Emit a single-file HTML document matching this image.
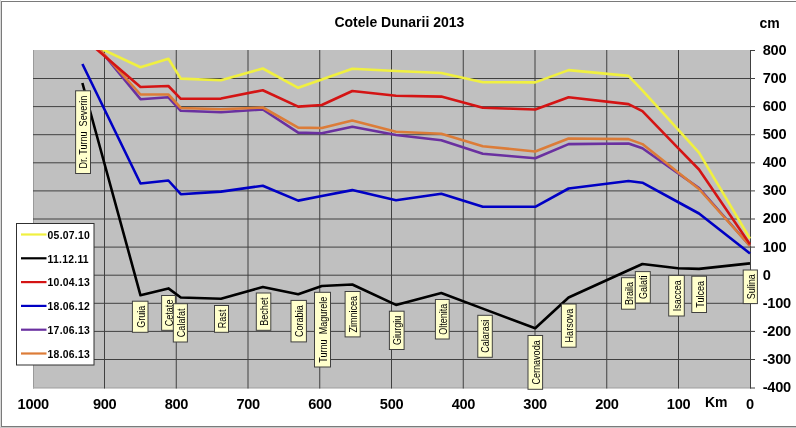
<!DOCTYPE html>
<html><head><meta charset="utf-8"><style>
html,body{margin:0;padding:0;background:#fff;}
svg{display:block;font-family:"Liberation Sans",sans-serif;filter:blur(0.4px);}
</style></head><body>
<svg width="796" height="428" viewBox="0 0 796 428">
<rect x="0" y="0" width="796" height="428" fill="#ffffff"/>
<rect x="0" y="0" width="1" height="428" fill="#d8d8d8"/>
<rect x="1" y="1" width="795" height="1" fill="#7a7a7a"/>
<rect x="1" y="1" width="1" height="426" fill="#7a7a7a"/>
<rect x="1" y="426" width="795" height="1" fill="#7a7a7a"/>
<rect x="0" y="427" width="796" height="1" fill="#c8c8c8"/>
<rect x="33" y="50" width="717" height="338.5" fill="#C0C0C0"/>
<rect x="33" y="50" width="1" height="338.5" fill="#9a9a9a"/>
<rect x="33" y="387.3" width="717" height="1" fill="#a8a8a8"/>
<line x1="104.50" y1="50" x2="104.50" y2="388.5" stroke="#404040" stroke-width="1"/>
<line x1="176.25" y1="50" x2="176.25" y2="388.5" stroke="#404040" stroke-width="1"/>
<line x1="248.00" y1="50" x2="248.00" y2="388.5" stroke="#404040" stroke-width="1"/>
<line x1="319.75" y1="50" x2="319.75" y2="388.5" stroke="#404040" stroke-width="1"/>
<line x1="391.50" y1="50" x2="391.50" y2="388.5" stroke="#404040" stroke-width="1"/>
<line x1="463.25" y1="50" x2="463.25" y2="388.5" stroke="#404040" stroke-width="1"/>
<line x1="535.00" y1="50" x2="535.00" y2="388.5" stroke="#404040" stroke-width="1"/>
<line x1="606.75" y1="50" x2="606.75" y2="388.5" stroke="#404040" stroke-width="1"/>
<line x1="678.50" y1="50" x2="678.50" y2="388.5" stroke="#404040" stroke-width="1"/>
<line x1="33" y1="78.50" x2="750" y2="78.50" stroke="#404040" stroke-width="1"/>
<line x1="33" y1="106.60" x2="750" y2="106.60" stroke="#404040" stroke-width="1"/>
<line x1="33" y1="134.70" x2="750" y2="134.70" stroke="#404040" stroke-width="1"/>
<line x1="33" y1="162.80" x2="750" y2="162.80" stroke="#404040" stroke-width="1"/>
<line x1="33" y1="190.90" x2="750" y2="190.90" stroke="#404040" stroke-width="1"/>
<line x1="33" y1="219.00" x2="750" y2="219.00" stroke="#404040" stroke-width="1"/>
<line x1="33" y1="247.10" x2="750" y2="247.10" stroke="#404040" stroke-width="1"/>
<line x1="33" y1="275.20" x2="750" y2="275.20" stroke="#404040" stroke-width="1"/>
<line x1="33" y1="303.30" x2="750" y2="303.30" stroke="#404040" stroke-width="1"/>
<line x1="33" y1="331.40" x2="750" y2="331.40" stroke="#404040" stroke-width="1"/>
<line x1="33" y1="359.50" x2="750" y2="359.50" stroke="#404040" stroke-width="1"/>
<line x1="750.5" y1="50" x2="750.5" y2="388.5" stroke="#404040" stroke-width="1"/>
<line x1="750" y1="50.50" x2="755" y2="50.50" stroke="#404040" stroke-width="1"/>
<line x1="750" y1="78.50" x2="755" y2="78.50" stroke="#404040" stroke-width="1"/>
<line x1="750" y1="106.60" x2="755" y2="106.60" stroke="#404040" stroke-width="1"/>
<line x1="750" y1="134.70" x2="755" y2="134.70" stroke="#404040" stroke-width="1"/>
<line x1="750" y1="162.80" x2="755" y2="162.80" stroke="#404040" stroke-width="1"/>
<line x1="750" y1="190.90" x2="755" y2="190.90" stroke="#404040" stroke-width="1"/>
<line x1="750" y1="219.00" x2="755" y2="219.00" stroke="#404040" stroke-width="1"/>
<line x1="750" y1="247.10" x2="755" y2="247.10" stroke="#404040" stroke-width="1"/>
<line x1="750" y1="275.20" x2="755" y2="275.20" stroke="#404040" stroke-width="1"/>
<line x1="750" y1="303.30" x2="755" y2="303.30" stroke="#404040" stroke-width="1"/>
<line x1="750" y1="331.40" x2="755" y2="331.40" stroke="#404040" stroke-width="1"/>
<line x1="750" y1="359.50" x2="755" y2="359.50" stroke="#404040" stroke-width="1"/>
<line x1="750" y1="388.00" x2="755" y2="388.00" stroke="#404040" stroke-width="1"/>
<clipPath id="pc"><rect x="33" y="50" width="718" height="338.5"/></clipPath>
<g clip-path="url(#pc)" fill="none" stroke-width="2.6" stroke-linejoin="round" stroke-linecap="butt">
<polyline points="82.4,40.0 140.5,67.2 168.4,58.8 180.8,78.6 221.0,80.2 262.8,68.5 298.2,87.8 321.8,79.5 352.3,68.7 396.0,71.0 441.3,73.0 482.8,82.2 535.2,82.4 568.6,70.1 628.5,75.9 642.4,90.3 677.9,129.4 699.0,152.6 750.0,238.7" stroke="#F0F040"/>
<polyline points="82.4,83.0 140.5,295.3 168.4,288.4 180.8,297.5 221.0,298.7 262.8,287.0 298.2,294.3 321.8,286.0 352.3,284.5 396.0,304.9 441.3,293.0 482.8,308.6 535.2,328.2 568.6,297.5 628.5,270.3 642.4,264.0 677.9,268.3 699.0,268.9 750.0,263.4" stroke="#000000"/>
<polyline points="82.4,64.0 140.5,183.5 168.4,180.5 180.8,194.2 221.0,191.6 262.8,185.7 298.2,200.6 321.8,196.0 352.3,190.1 396.0,200.2 441.3,193.7 482.8,206.8 535.2,206.8 568.6,188.5 628.5,181.0 642.4,182.7 677.9,202.0 699.0,213.5 750.0,253.5" stroke="#0000C4"/>
<polyline points="82.4,28.5 140.5,99.2 168.4,97.3 180.8,110.8 221.0,112.3 262.8,109.5 298.2,132.6 321.8,133.2 352.3,126.8 396.0,135.0 441.3,140.2 482.8,153.8 535.2,158.2 568.6,144.1 628.5,143.5 642.4,148.2 677.9,173.2 699.0,188.0 750.0,246.0" stroke="#6A30A0"/>
<polyline points="82.4,30.5 140.5,94.5 168.4,94.5 180.8,108.0 221.0,109.3 262.8,107.5 298.2,127.6 321.8,128.0 352.3,120.6 396.0,131.7 441.3,133.7 482.8,146.2 535.2,151.5 568.6,138.5 628.5,139.1 642.4,144.1 677.9,172.3 699.0,189.0 750.0,246.0" stroke="#DC7C38"/>
<polyline points="82.4,37.0 140.5,87.0 168.4,86.0 180.8,98.8 221.0,98.6 262.8,90.2 298.2,106.6 321.8,105.0 352.3,91.0 396.0,95.8 441.3,96.6 482.8,107.8 535.2,109.5 568.6,97.2 628.5,104.1 642.4,111.2 677.9,147.8 699.0,169.5 750.0,244.3" stroke="#D41414"/>
</g>
<rect x="75.6" y="90.8" width="14.9" height="82.7" fill="#FFFFCC" stroke="#404040" stroke-width="1"/>
<text x="0" y="0" transform="translate(87.45,132.15) rotate(-90) scale(1,1.12)" text-anchor="middle" font-size="9.05" fill="#000">Dr. Turnu&#160; Severin</text>
<rect x="132.4" y="301.2" width="15.6" height="31.1" fill="#FFFFCC" stroke="#404040" stroke-width="1"/>
<text x="0" y="0" transform="translate(144.60,316.75) rotate(-90) scale(1,1.12)" text-anchor="middle" font-size="9.05" fill="#000">Gruia</text>
<rect x="161.6" y="295.5" width="13.8" height="34.8" fill="#FFFFCC" stroke="#404040" stroke-width="1"/>
<text x="0" y="0" transform="translate(172.90,312.90) rotate(-90) scale(1,1.12)" text-anchor="middle" font-size="9.05" fill="#000">Cetate</text>
<rect x="173.3" y="303.7" width="14.1" height="38.3" fill="#FFFFCC" stroke="#404040" stroke-width="1"/>
<text x="0" y="0" transform="translate(184.75,322.85) rotate(-90) scale(1,1.12)" text-anchor="middle" font-size="9.05" fill="#000">Calafat</text>
<rect x="214.5" y="305.5" width="14.0" height="26.8" fill="#FFFFCC" stroke="#404040" stroke-width="1"/>
<text x="0" y="0" transform="translate(225.90,318.90) rotate(-90) scale(1,1.12)" text-anchor="middle" font-size="9.05" fill="#000">Rast</text>
<rect x="256.3" y="293.0" width="14.5" height="37.3" fill="#FFFFCC" stroke="#404040" stroke-width="1"/>
<text x="0" y="0" transform="translate(267.95,311.65) rotate(-90) scale(1,1.12)" text-anchor="middle" font-size="9.05" fill="#000">Bechet</text>
<rect x="291.0" y="300.4" width="15.4" height="41.5" fill="#FFFFCC" stroke="#404040" stroke-width="1"/>
<text x="0" y="0" transform="translate(303.10,321.15) rotate(-90) scale(1,1.12)" text-anchor="middle" font-size="9.05" fill="#000">Corabia</text>
<rect x="314.5" y="292.3" width="16.0" height="74.7" fill="#FFFFCC" stroke="#404040" stroke-width="1"/>
<text x="0" y="0" transform="translate(326.90,329.65) rotate(-90) scale(1,1.12)" text-anchor="middle" font-size="9.05" fill="#000">Turnu&#160; Magurele</text>
<rect x="345.1" y="291.5" width="15.1" height="45.4" fill="#FFFFCC" stroke="#404040" stroke-width="1"/>
<text x="0" y="0" transform="translate(357.05,314.20) rotate(-90) scale(1,1.12)" text-anchor="middle" font-size="9.05" fill="#000">Zimnicea</text>
<rect x="389.4" y="311.2" width="14.7" height="38.3" fill="#FFFFCC" stroke="#404040" stroke-width="1"/>
<text x="0" y="0" transform="translate(401.15,330.35) rotate(-90) scale(1,1.12)" text-anchor="middle" font-size="9.05" fill="#000">Giurgiu</text>
<rect x="435.4" y="299.5" width="13.8" height="39.5" fill="#FFFFCC" stroke="#404040" stroke-width="1"/>
<text x="0" y="0" transform="translate(446.70,319.25) rotate(-90) scale(1,1.12)" text-anchor="middle" font-size="9.05" fill="#000">Oltenita</text>
<rect x="477.8" y="315.3" width="14.5" height="42.0" fill="#FFFFCC" stroke="#404040" stroke-width="1"/>
<text x="0" y="0" transform="translate(489.45,336.30) rotate(-90) scale(1,1.12)" text-anchor="middle" font-size="9.05" fill="#000">Calarasi</text>
<rect x="528.0" y="335.5" width="14.6" height="53.8" fill="#FFFFCC" stroke="#404040" stroke-width="1"/>
<text x="0" y="0" transform="translate(539.70,362.40) rotate(-90) scale(1,1.12)" text-anchor="middle" font-size="9.05" fill="#000">Cernavoda</text>
<rect x="561.4" y="304.0" width="14.7" height="43.2" fill="#FFFFCC" stroke="#404040" stroke-width="1"/>
<text x="0" y="0" transform="translate(573.15,325.60) rotate(-90) scale(1,1.12)" text-anchor="middle" font-size="9.05" fill="#000">Harsova</text>
<rect x="621.5" y="277.7" width="13.8" height="31.5" fill="#FFFFCC" stroke="#404040" stroke-width="1"/>
<text x="0" y="0" transform="translate(632.80,293.45) rotate(-90) scale(1,1.12)" text-anchor="middle" font-size="9.05" fill="#000">Braila</text>
<rect x="635.3" y="271.6" width="15.0" height="31.4" fill="#FFFFCC" stroke="#404040" stroke-width="1"/>
<text x="0" y="0" transform="translate(647.20,287.30) rotate(-90) scale(1,1.12)" text-anchor="middle" font-size="9.05" fill="#000">Galati</text>
<rect x="668.7" y="275.4" width="15.6" height="40.6" fill="#FFFFCC" stroke="#404040" stroke-width="1"/>
<text x="0" y="0" transform="translate(680.90,295.70) rotate(-90) scale(1,1.12)" text-anchor="middle" font-size="9.05" fill="#000">Isaccea</text>
<rect x="691.8" y="276.2" width="14.7" height="36.3" fill="#FFFFCC" stroke="#404040" stroke-width="1"/>
<text x="0" y="0" transform="translate(703.55,294.35) rotate(-90) scale(1,1.12)" text-anchor="middle" font-size="9.05" fill="#000">Tulcea</text>
<rect x="743.2" y="270.0" width="14.2" height="33.6" fill="#FFFFCC" stroke="#404040" stroke-width="1"/>
<text x="0" y="0" transform="translate(754.70,286.80) rotate(-90) scale(1,1.12)" text-anchor="middle" font-size="9.05" fill="#000">Sulina</text>
<rect x="16.5" y="223.5" width="77.5" height="141.5" fill="#ffffff" stroke="#303030" stroke-width="1"/>
<line x1="21" y1="234.5" x2="46.5" y2="234.5" stroke="#F0F040" stroke-width="2.2"/>
<text x="47.6" y="238.8" font-size="10.4" letter-spacing="0.25" font-weight="bold" fill="#000">05.07.10</text>
<line x1="21" y1="258.3" x2="46.5" y2="258.3" stroke="#000000" stroke-width="2.2"/>
<text x="47.6" y="262.6" font-size="10.4" letter-spacing="0.25" font-weight="bold" fill="#000">11.12.11</text>
<line x1="21" y1="282.1" x2="46.5" y2="282.1" stroke="#D41414" stroke-width="2.2"/>
<text x="47.6" y="286.4" font-size="10.4" letter-spacing="0.25" font-weight="bold" fill="#000">10.04.13</text>
<line x1="21" y1="305.9" x2="46.5" y2="305.9" stroke="#0000C4" stroke-width="2.2"/>
<text x="47.6" y="310.2" font-size="10.4" letter-spacing="0.25" font-weight="bold" fill="#000">18.06.12</text>
<line x1="21" y1="329.7" x2="46.5" y2="329.7" stroke="#6A30A0" stroke-width="2.2"/>
<text x="47.6" y="334.0" font-size="10.4" letter-spacing="0.25" font-weight="bold" fill="#000">17.06.13</text>
<line x1="21" y1="353.5" x2="46.5" y2="353.5" stroke="#DC7C38" stroke-width="2.2"/>
<text x="47.6" y="357.8" font-size="10.4" letter-spacing="0.25" font-weight="bold" fill="#000">18.06.13</text>
<text x="399.4" y="27" text-anchor="middle" font-size="14" font-weight="bold" fill="#000">Cotele Dunarii 2013</text>
<text x="759.5" y="28.2" font-size="14" font-weight="bold" fill="#000">cm</text>
<text x="762.8" y="54.8" font-size="14.6" letter-spacing="-0.3" font-weight="bold" fill="#000">800</text>
<text x="762.8" y="82.9" font-size="14.6" letter-spacing="-0.3" font-weight="bold" fill="#000">700</text>
<text x="762.8" y="111.0" font-size="14.6" letter-spacing="-0.3" font-weight="bold" fill="#000">600</text>
<text x="762.8" y="139.1" font-size="14.6" letter-spacing="-0.3" font-weight="bold" fill="#000">500</text>
<text x="762.8" y="167.2" font-size="14.6" letter-spacing="-0.3" font-weight="bold" fill="#000">400</text>
<text x="762.8" y="195.3" font-size="14.6" letter-spacing="-0.3" font-weight="bold" fill="#000">300</text>
<text x="762.8" y="223.4" font-size="14.6" letter-spacing="-0.3" font-weight="bold" fill="#000">200</text>
<text x="762.8" y="251.5" font-size="14.6" letter-spacing="-0.3" font-weight="bold" fill="#000">100</text>
<text x="762.8" y="279.6" font-size="14.6" letter-spacing="-0.3" font-weight="bold" fill="#000">0</text>
<text x="762.8" y="307.7" font-size="14.6" letter-spacing="-0.3" font-weight="bold" fill="#000">-100</text>
<text x="762.8" y="335.8" font-size="14.6" letter-spacing="-0.3" font-weight="bold" fill="#000">-200</text>
<text x="762.8" y="363.9" font-size="14.6" letter-spacing="-0.3" font-weight="bold" fill="#000">-300</text>
<text x="762.8" y="392.0" font-size="14.6" letter-spacing="-0.3" font-weight="bold" fill="#000">-400</text>
<text x="33.2" y="409.4" text-anchor="middle" font-size="14.6" letter-spacing="-0.3" font-weight="bold" fill="#000">1000</text>
<text x="104.7" y="409.4" text-anchor="middle" font-size="14.6" letter-spacing="-0.3" font-weight="bold" fill="#000">900</text>
<text x="176.4" y="409.4" text-anchor="middle" font-size="14.6" letter-spacing="-0.3" font-weight="bold" fill="#000">800</text>
<text x="248.2" y="409.4" text-anchor="middle" font-size="14.6" letter-spacing="-0.3" font-weight="bold" fill="#000">700</text>
<text x="319.9" y="409.4" text-anchor="middle" font-size="14.6" letter-spacing="-0.3" font-weight="bold" fill="#000">600</text>
<text x="391.6" y="409.4" text-anchor="middle" font-size="14.6" letter-spacing="-0.3" font-weight="bold" fill="#000">500</text>
<text x="463.4" y="409.4" text-anchor="middle" font-size="14.6" letter-spacing="-0.3" font-weight="bold" fill="#000">400</text>
<text x="535.1" y="409.4" text-anchor="middle" font-size="14.6" letter-spacing="-0.3" font-weight="bold" fill="#000">300</text>
<text x="606.9" y="409.4" text-anchor="middle" font-size="14.6" letter-spacing="-0.3" font-weight="bold" fill="#000">200</text>
<text x="678.6" y="409.4" text-anchor="middle" font-size="14.6" letter-spacing="-0.3" font-weight="bold" fill="#000">100</text>
<text x="749.9" y="409.4" text-anchor="middle" font-size="14.6" letter-spacing="-0.3" font-weight="bold" fill="#000">0</text>
<text x="716.2" y="407" text-anchor="middle" font-size="14" font-weight="bold" fill="#000">Km</text>
</svg>
</body></html>
